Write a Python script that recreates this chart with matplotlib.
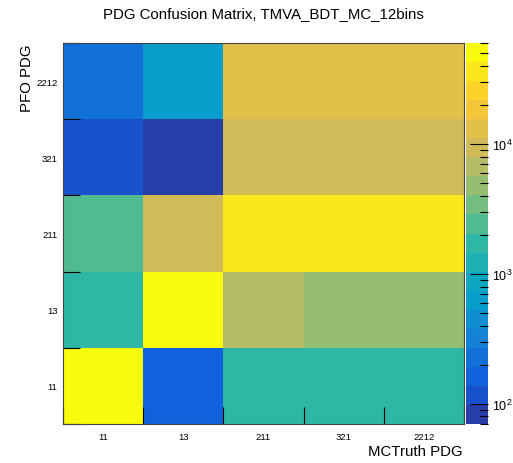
import numpy as np
import matplotlib
matplotlib.use("Agg")
import matplotlib.pyplot as plt
from matplotlib.colors import LinearSegmentedColormap, ListedColormap, LogNorm
from matplotlib.ticker import NullFormatter, LogLocator

plt.rcParams["font.family"] = ["Liberation Sans", "DejaVu Sans"]

# PDG categories (MC truth on x, PFO on y)
mc_pdg = ["11", "13", "211", "321", "2212"]
pfo_pdg = ["11", "13", "211", "321", "2212"]

# counts, one list per PFO row (bottom to top), columns follow mc_pdg
row_11 = [60000, 163, 1700, 1800, 1650]
row_13 = [1750, 52000, 6700, 4800, 4700]
row_211 = [2400, 9300, 36000, 35000, 37000]
row_321 = [116, 85, 9400, 9200, 9500]
row_2212 = [230, 630, 13000, 13200, 12800]

zmin, zmax = 70, 60000

# ROOT kBird palette, 20 contour levels
stops = [0.0, 0.125, 0.25, 0.375, 0.5, 0.625, 0.75, 0.875, 1.0]
red = [0.2082, 0.0592, 0.0780, 0.0232, 0.1802, 0.5301, 0.8186, 0.9956, 0.9764]
green = [0.1664, 0.3599, 0.5041, 0.6419, 0.7178, 0.7492, 0.7328, 0.7862, 0.9832]
blue = [0.5293, 0.8684, 0.8385, 0.7914, 0.6425, 0.4662, 0.3499, 0.1968, 0.0539]
bird = LinearSegmentedColormap.from_list(
    "bird", list(zip(stops, zip(red, green, blue))), N=255)
ndiv = 20
idx = [int((k + 0.99) * 255 / ndiv) for k in range(ndiv)]
cmap = ListedColormap([bird(i / 254) for i in idx])

z = np.array([row_11, row_13, row_211, row_321, row_2212], dtype=float)

fig = plt.figure(figsize=(5.13, 4.64), dpi=100)
ax = fig.add_axes([63 / 513, 39 / 464, 401 / 513, 381 / 464])
cax = fig.add_axes([466 / 513, 39 / 464, 22 / 513, 381 / 464])

norm = LogNorm(vmin=zmin, vmax=zmax)
mesh = ax.pcolormesh(np.arange(len(mc_pdg) + 1), np.arange(len(pfo_pdg) + 1), z,
                     cmap=cmap, norm=norm)

# ticks at bin edges, labels at bin centres
ax.set_xticks(np.arange(len(mc_pdg) + 1))
ax.set_yticks(np.arange(len(pfo_pdg) + 1))
ax.set_xticklabels([])
ax.set_yticklabels([])
ax.tick_params(which="major", direction="in", length=12, width=0.8, color="black")
ax.set_xticks(np.arange(len(mc_pdg)) + 0.5, minor=True)
ax.set_yticks(np.arange(len(pfo_pdg)) + 0.5, minor=True)
ax.set_xticklabels(mc_pdg, minor=True, fontsize=6.8)
ax.set_yticklabels(pfo_pdg, minor=True, fontsize=6.8)
ax.tick_params(axis="x", which="minor", length=0, pad=6)
ax.tick_params(axis="y", which="minor", length=0, pad=4)
for s in ax.spines.values():
    s.set_color("#444444")
    s.set_linewidth(0.8)

cb = fig.colorbar(mesh, cax=cax)
cb.outline.set_visible(False)
cb.ax.yaxis.set_major_locator(LogLocator(base=10))
cb.ax.yaxis.set_minor_formatter(NullFormatter())
cb.ax.tick_params(which="major", direction="in", length=13, width=0.8, labelsize=9, pad=3)
cb.ax.tick_params(which="minor", direction="in", length=6, width=0.8)

fig.text(263 / 513, 1 - 14 / 464, "PDG Confusion Matrix, TMVA_BDT_MC_12bins",
         ha="center", va="center", fontsize=10.8)
fig.text(463 / 513, 1 - 452 / 464, "MCTruth PDG", ha="right", va="center", fontsize=10.8)
fig.text(27 / 513, 1 - 44 / 464, "PFO PDG", ha="center", va="top", rotation=90, fontsize=10.8)

fig.savefig("out.png", dpi=100)
